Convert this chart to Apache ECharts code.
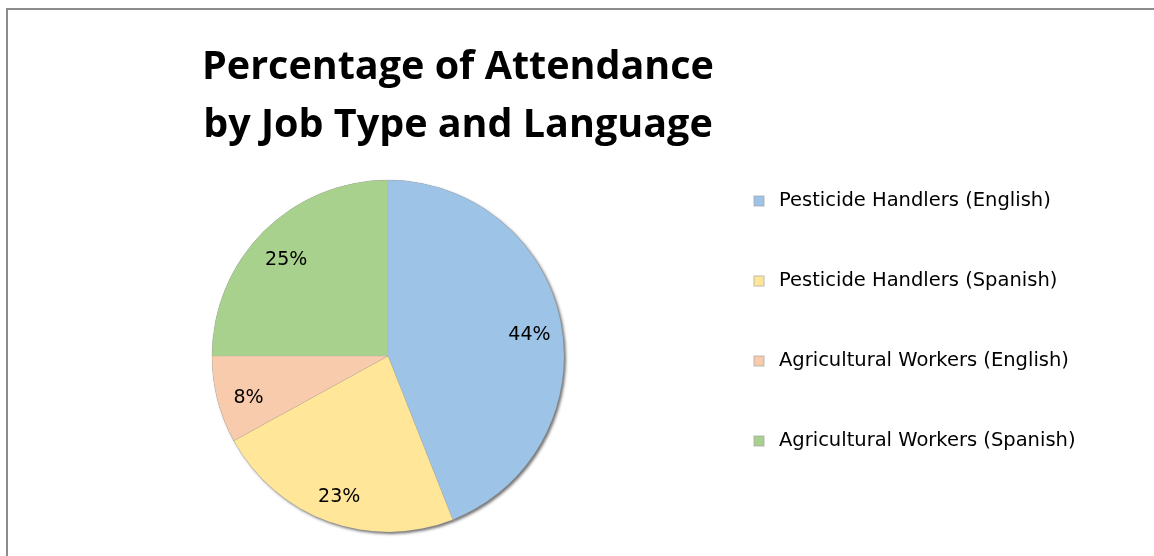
<!DOCTYPE html>
<html>
<head>
<meta charset="utf-8">
<script src="https://cdn.jsdelivr.net/npm/echarts@6/dist/echarts.min.js"></script>
<style>
html,body{margin:0;padding:0;background:#fff;}
#chart{width:1154px;height:556px;}
</style>
</head>
<body>
<div id="chart"></div>
<script>
const categories = [
  'Pesticide Handlers (English)',
  'Pesticide Handlers (Spanish)',
  'Agricultural Workers (English)',
  'Agricultural Workers (Spanish)'
];
const values = [44, 23, 8, 25];
const colors = ['#9DC3E6', '#FFE699', '#F8CBAD', '#A9D18E'];
const titleText = 'Percentage of Attendance\nby Job Type and Language';

const TITLE_FONT = '"Open Sans", Lato, sans-serif';
const FONT = '"DejaVu Sans", sans-serif';
const CENTER = [388, 356];
const R = 176;

const chart = echarts.init(document.getElementById('chart'), null, {renderer: 'canvas'});

const mainData = categories.map((c, i) => ({name: c, value: values[i], itemStyle: {color: colors[i]}}));

chart.setOption({
  animation: false,
  backgroundColor: '#ffffff',
  title: {
    text: titleText,
    left: 453,
    top: 34,
    textAlign: 'center',
    textStyle: {fontFamily: TITLE_FONT, fontWeight: 'bold', fontSize: 39.5, lineHeight: 58, color: '#000'}
  },
  legend: {
    orient: 'vertical',
    left: 748,
    top: 186,
    itemWidth: 10,
    itemHeight: 10,
    itemGap: 60,
    icon: 'rect',
    data: categories,
    textStyle: {fontFamily: FONT, fontSize: 19.5, color: '#000', lineHeight: 20, padding: [0, 0, 0, 10]}
  },
  graphic: [{
    type: 'rect',
    shape: {x: 7, y: 9, width: 1200, height: 700},
    style: {fill: 'none', stroke: '#8c8c8c', lineWidth: 2},
    silent: true,
    z: 0
  }],
  series: [
    {
      name: 'main',
      type: 'pie',
      center: CENTER,
      radius: [0, R],
      startAngle: 90,
      clockwise: true,
      z: 3,
      label: {show: false},
      labelLine: {show: false},
      itemStyle: {borderColor: 'rgba(160,160,160,0.35)', borderWidth: 0.5},
      emphasis: {disabled: true},
      data: mainData
    },
    {
      name: 'labels',
      type: 'pie',
      center: CENTER,
      radius: [106, R],
      startAngle: 90,
      clockwise: true,
      z: 4,
      silent: true,
      itemStyle: {color: 'rgba(0,0,0,0)'},
      label: {
        show: true,
        position: 'inside',
        formatter: '{d}%',
        fontFamily: FONT,
        fontSize: 19,
        color: '#000',
        offset: [0, 6]
      },
      labelLine: {show: false},
      emphasis: {disabled: true},
      data: categories.map((c, i) => ({name: c, value: values[i]}))
    },
    {
      name: 'shadow',
      type: 'pie',
      center: CENTER,
      radius: [0, R],
      startAngle: 90,
      clockwise: true,
      z: 1,
      silent: true,
      label: {show: false},
      labelLine: {show: false},
      itemStyle: {color: '#777', shadowColor: 'rgba(0,0,0,0.55)', shadowBlur: 3, shadowOffsetX: 2, shadowOffsetY: 2},
      emphasis: {disabled: true},
      data: categories.map((c, i) => ({name: c, value: values[i]}))
    }
  ]
});
</script>
</body>
</html>
